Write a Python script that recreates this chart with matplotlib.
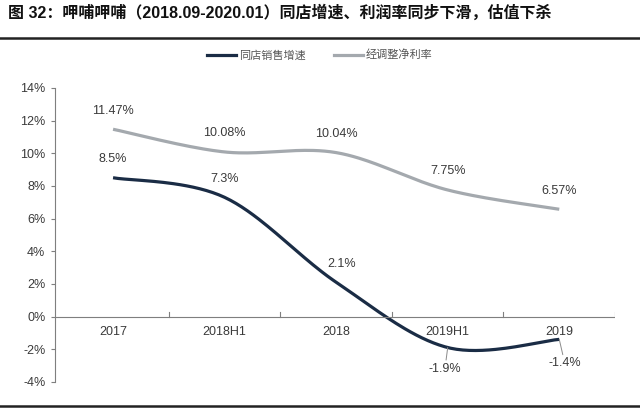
import numpy as np
import matplotlib.pyplot as plt
from matplotlib.lines import Line2D

plt.rcParams['font.family'] = ['Liberation Sans', 'Noto Sans CJK SC', 'DejaVu Sans']

# data
categories = ['2017', '2018H1', '2018', '2019H1', '2019']
same_store = [8.5, 7.3, 2.1, -1.9, -1.4]
net_margin = [11.47, 10.08, 10.04, 7.75, 6.57]
same_store_labels = ['8.5%', '7.3%', '2.1%', '-1.9%', '-1.4%']
net_margin_labels = ['11.47%', '10.08%', '10.04%', '7.75%', '6.57%']
series_names = ['同店销售增速', '经调整净利率']
title = '图 32：呷哺呷哺（2018.09-2020.01）同店增速、利润率同步下滑，估值下杀'

dark = '#1a2c45'
grey = '#a4a9ae'
txt = '#3a3a3a'


def smooth(xs, ys, yscale=0.147, n=40):
    # excel-like smoothed line (catmull-rom bezier), computed in screen-like units
    p = np.column_stack([np.asarray(xs, float), np.asarray(ys, float) * yscale])
    out = []
    for i in range(len(p) - 1):
        p0 = p[i - 1] if i > 0 else p[i]
        p1, p2 = p[i], p[i + 1]
        p3 = p[i + 2] if i + 2 < len(p) else p[i + 1]
        c1 = p1 + (p2 - p0) / 6
        c2 = p2 - (p3 - p1) / 6
        t = np.linspace(0, 1, n)[:, None]
        seg = (1 - t) ** 3 * p1 + 3 * (1 - t) ** 2 * t * c1 + 3 * (1 - t) * t ** 2 * c2 + t ** 3 * p2
        out.append(seg if i == 0 else seg[1:])
    out = np.vstack(out)
    return out[:, 0], out[:, 1] / yscale


fig = plt.figure(figsize=(6.4, 4.11), dpi=100)
ax = fig.add_axes([0.086, 0.071, 0.875, 0.715])

x = np.arange(len(categories))
sx, sy = smooth(x, same_store)
gx, gy = smooth(x, net_margin)
ax.plot(gx, gy, color=grey, lw=2.3, solid_capstyle='butt')
ax.plot(sx, sy, color=dark, lw=2.3, solid_capstyle='butt')

# data labels
for i, (v, s) in enumerate(zip(net_margin, net_margin_labels)):
    ax.annotate(s, (i, v), xytext=(0, 9), textcoords='offset points',
                ha='center', va='bottom', fontsize=9, color=txt)
neg_offsets = {3: (-2, -11), 4: (4, -13)}
for i, (v, s) in enumerate(zip(same_store, same_store_labels)):
    if v < 0:
        ax.annotate(s, (i, v), xytext=neg_offsets[i], textcoords='offset points',
                    ha='center', va='top', fontsize=9, color=txt,
                    arrowprops=dict(arrowstyle='-', color='#8a8a8a', lw=0.7, shrinkA=0, shrinkB=0))
    else:
        ax.annotate(s, (i, v), xytext=(4 if i == 2 else 0, 9), textcoords='offset points',
                    ha='center', va='bottom', fontsize=9, color=txt)

ax.set_xlim(-0.52, 4.5)
ax.set_ylim(-4, 14)
ax.set_yticks(np.arange(-4, 15, 2))
ax.set_yticklabels([f'{t}%' for t in range(-4, 15, 2)], fontsize=9, color=txt)
ax.set_xticks([])

for s in ['top', 'right', 'bottom']:
    ax.spines[s].set_visible(False)
ax.spines['left'].set_color('#7f7f7f')
ax.spines['left'].set_linewidth(0.8)
ax.tick_params(axis='y', length=3, color='#7f7f7f', width=0.8, pad=4)

# category axis drawn at zero
ax.axhline(0, color='#7f7f7f', lw=0.8, xmin=0, xmax=1)
for b in np.arange(len(categories)) + 0.5:
    ax.plot([b, b], [0, 0.3], color='#7f7f7f', lw=0.8)
for i, c in enumerate(categories):
    ax.text(i, -0.6, c, ha='center', va='top', fontsize=9, color=txt)

# legend
handles = [Line2D([], [], color=dark, lw=2.3), Line2D([], [], color=grey, lw=2.3)]
fig.legend(handles, series_names, loc='center', bbox_to_anchor=(0.5, 0.866), ncol=2,
           frameon=False, handlelength=2.6, handletextpad=0.3, columnspacing=2.5,
           labelcolor='#555555', prop={'family': ['Noto Sans CJK SC'], 'size': 8})

fig.text(0.013, 0.97, title, ha='left', va='center', fontsize=11.5, fontweight='bold',
         family=['Liberation Sans', 'Noto Sans CJK SC'], color='#111111')
fig.add_artist(Line2D([0, 1], [0.907, 0.907], color='#222222', lw=1.8, transform=fig.transFigure))
fig.add_artist(Line2D([0, 1], [0.013, 0.013], color='#222222', lw=1.8, transform=fig.transFigure))

fig.savefig('out.png', dpi=100)
